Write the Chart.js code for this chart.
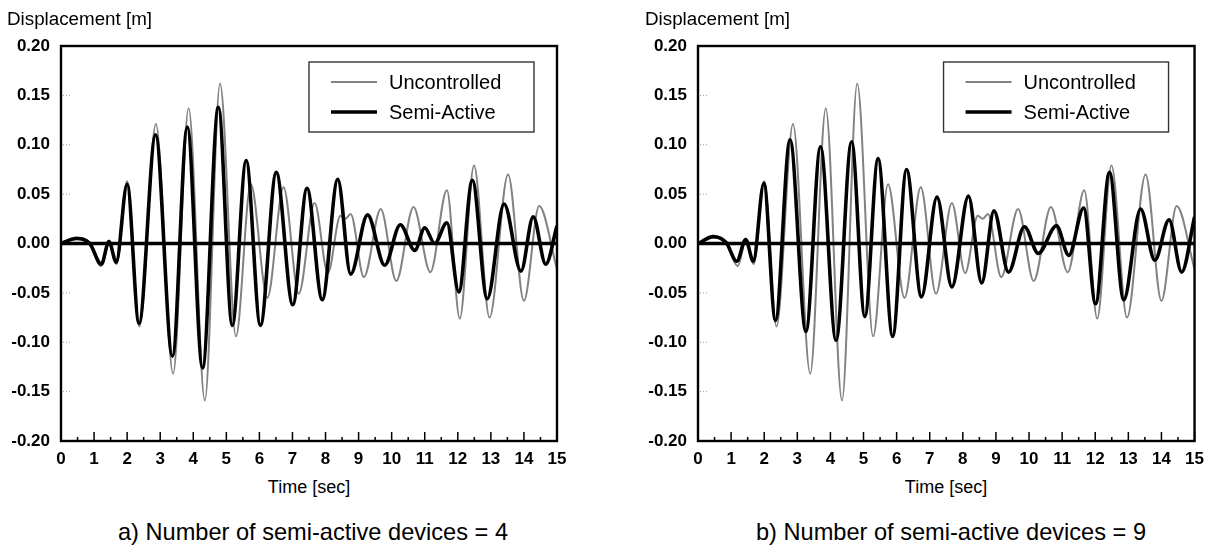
<!DOCTYPE html>
<html><head><meta charset="utf-8">
<script src="https://cdn.jsdelivr.net/npm/chart.js@4.4.1/dist/chart.umd.min.js"></script>
<style>
body{margin:0;background:#fff;}
#page{position:relative;width:1212px;height:550px;overflow:hidden;background:#fff;font-family:"Liberation Sans",Arial,sans-serif;color:#000;}
.t{position:absolute;white-space:nowrap;line-height:1;text-align:center;}
canvas{position:absolute;top:0;}
</style></head><body>
<div id="page">
<canvas id="cL" width="600" height="470" style="left:0px"></canvas>
<canvas id="cR" width="575" height="470" style="left:637px"></canvas>
<div class="t" style="left:7px;top:10px;font-size:18.8px;text-align:left">Displacement [m]</div>
<div class="t" style="left:645px;top:10px;font-size:18.8px;text-align:left">Displacement [m]</div>
<div class="t" style="left:209px;width:200px;top:478px;font-size:18px">Time [sec]</div>
<div class="t" style="left:846px;width:200px;top:478px;font-size:18px">Time [sec]</div>
<div class="t" style="left:13px;width:600px;top:521px;font-size:23.6px">a) Number of semi-active devices = 4</div>
<div class="t" style="left:651px;width:600px;top:521px;font-size:23.6px">b) Number of semi-active devices = 9</div>
</div>
<script>
const FONT = '"Liberation Sans", Arial, sans-serif';

// Uncontrolled response (same in both panels)
const uncontrolledTime = [0.0, 0.45, 0.85, 1.2, 1.45, 1.68, 2.0, 2.37, 2.87, 3.39, 3.86, 4.35, 4.81, 5.29, 5.74, 6.24, 6.73, 7.19, 7.67, 8.07, 8.45, 8.6, 8.76, 9.16, 9.67, 10.14, 10.66, 11.17, 11.67, 12.06, 12.49, 12.96, 13.52, 14.0, 14.46, 15.0];
const uncontrolledDisp = [0.0, 0.006, 0.001, -0.023, 0.003, -0.021, 0.063, -0.084, 0.121, -0.132, 0.137, -0.159, 0.162, -0.094, 0.060, -0.055, 0.057, -0.051, 0.041, -0.030, 0.028, 0.025, 0.030, -0.034, 0.035, -0.038, 0.037, -0.029, 0.054, -0.076, 0.079, -0.075, 0.070, -0.058, 0.038, -0.026];

// Semi-active, 4 devices
const semiActive4Time = [0.0, 0.46, 0.87, 1.22, 1.45, 1.67, 2.0, 2.36, 2.86, 3.37, 3.82, 4.28, 4.76, 5.18, 5.6, 6.03, 6.51, 7.01, 7.44, 7.9, 8.37, 8.76, 9.27, 9.79, 10.26, 10.7, 11.0, 11.3, 11.67, 12.03, 12.44, 12.89, 13.4, 13.91, 14.28, 14.66, 15.0];
const semiActive4Disp = [0.0, 0.005, 0.0, -0.021, 0.002, -0.019, 0.060, -0.081, 0.110, -0.114, 0.118, -0.126, 0.138, -0.083, 0.084, -0.083, 0.072, -0.062, 0.056, -0.057, 0.065, -0.031, 0.029, -0.022, 0.019, -0.007, 0.016, 0.0, 0.021, -0.049, 0.064, -0.056, 0.040, -0.028, 0.027, -0.021, 0.018];

// Semi-active, 9 devices
const semiActive9Time = [0.0, 0.46, 0.85, 1.17, 1.44, 1.67, 1.99, 2.34, 2.78, 3.26, 3.7, 4.17, 4.64, 5.04, 5.44, 5.88, 6.3, 6.75, 7.22, 7.67, 8.17, 8.57, 8.94, 9.38, 9.86, 10.28, 10.83, 11.2, 11.65, 12.01, 12.43, 12.86, 13.37, 13.8, 14.23, 14.61, 15.0];
const semiActive9Disp = [0.0, 0.007, 0.001, -0.018, 0.004, -0.018, 0.061, -0.078, 0.105, -0.089, 0.098, -0.098, 0.103, -0.074, 0.086, -0.094, 0.075, -0.054, 0.047, -0.044, 0.048, -0.040, 0.033, -0.029, 0.017, -0.010, 0.018, -0.012, 0.036, -0.061, 0.072, -0.057, 0.035, -0.017, 0.024, -0.029, 0.027];

const xTickValues = [0,1,2,3,4,5,6,7,8,9,10,11,12,13,14,15];
const yTickValues = [-0.20,-0.15,-0.10,-0.05,0.00,0.05,0.10,0.15,0.20];
const legendLabels = ['Uncontrolled','Semi-Active'];

const toXY = (ts, vs) => ts.map((t, i) => ({x: t, y: vs[i]}));

function framePlugin(rightOffset) {
  return {
    id: 'frame',
    afterDatasetsDraw(chart) {
      const ctx = chart.ctx, a = chart.chartArea;
      const xs = chart.scales.x, ys = chart.scales.y;
      ctx.save();
      const y0 = ys.getPixelForValue(0);
      ctx.strokeStyle = '#000'; ctx.lineWidth = 3.4;
      ctx.beginPath(); ctx.moveTo(a.left, y0); ctx.lineTo(a.right, y0); ctx.stroke();
      ctx.lineWidth = 1.5;
      for (let v = 0; v <= 15; v += 0.5) {
        const px = xs.getPixelForValue(v);
        const len = (v % 1 === 0) ? 9 : 4;
        ctx.beginPath(); ctx.moveTo(px, a.bottom); ctx.lineTo(px, a.bottom - len); ctx.stroke();
      }
      ctx.strokeStyle = '#9a9a9a'; ctx.lineWidth = 1; ctx.setLineDash([1, 2]);
      yTickValues.forEach(v => {
        if (Math.abs(v) < 1e-9 || Math.abs(Math.abs(v) - 0.2) < 1e-9) return;
        const py = ys.getPixelForValue(v);
        ctx.beginPath(); ctx.moveTo(a.left + 2, py); ctx.lineTo(a.left + 10, py); ctx.stroke();
      });
      ctx.setLineDash([]);
      ctx.strokeStyle = '#000'; ctx.lineWidth = 2.4;
      ctx.strokeRect(a.left, a.top, a.right - a.left, a.bottom - a.top);
      const w = 225, h = 70;
      const bx = a.right - rightOffset - w, by = a.top + 16;
      ctx.fillStyle = '#fff'; ctx.fillRect(bx, by, w, h);
      ctx.strokeStyle = '#333'; ctx.lineWidth = 1.4;
      ctx.strokeRect(bx, by, w, h);
      const ds = chart.data.datasets;
      const rows = [ds[1], ds[0]];
      rows.forEach((d, i) => {
        const ry = by + 20 + i * 30;
        ctx.strokeStyle = d.borderColor; ctx.lineWidth = d.borderWidth;
        ctx.beginPath(); ctx.moveTo(bx + 22, ry); ctx.lineTo(bx + 68, ry); ctx.stroke();
        ctx.fillStyle = '#000'; ctx.font = '20px ' + FONT; ctx.textBaseline = 'middle'; ctx.textAlign = 'left';
        ctx.fillText(d.label, bx + 80, ry + 1);
      });
      ctx.restore();
    }
  };
}

function makeChart(id, semiT, semiV, padRight, legendRight) {
  return new Chart(document.getElementById(id), {
    type: 'line',
    data: {
      datasets: [
        {label: legendLabels[1], data: toXY(semiT, semiV), borderColor: '#000', borderWidth: 3.6, pointRadius: 0, cubicInterpolationMode: 'monotone', fill: false, order: 0},
        {label: legendLabels[0], data: toXY(uncontrolledTime, uncontrolledDisp), borderColor: '#828282', borderWidth: 2, pointRadius: 0, cubicInterpolationMode: 'monotone', fill: false, order: 1}
      ]
    },
    options: {
      responsive: false,
      animation: false,
      layout: {padding: {left: 0, right: padRight, top: 46, bottom: 0}},
      plugins: {legend: {display: false}, tooltip: {enabled: false}},
      scales: {
        x: {
          type: 'linear', min: 0, max: 15,
          afterBuildTicks: s => { s.ticks = xTickValues.map(v => ({value: v})); },
          ticks: {padding: 8, color: '#000', maxRotation: 0, autoSkip: false, font: {family: FONT, size: 17, weight: 'bold'}, callback: v => String(v)},
          grid: {display: false, drawTicks: false},
          border: {display: false},
          afterFit: s => { s.height = 29; }
        },
        y: {
          type: 'linear', min: -0.2, max: 0.2,
          afterBuildTicks: s => { s.ticks = yTickValues.map(v => ({value: v})); },
          ticks: {padding: 11, color: '#000', font: {family: FONT, size: 17, weight: 'bold'}, callback: v => (Math.abs(v) < 1e-9 ? '0.00' : Number(v).toFixed(2))},
          grid: {display: false, drawTicks: false},
          border: {display: false},
          afterFit: s => { s.width = 61; }
        }
      }
    },
    plugins: [framePlugin(legendRight)]
  });
}

makeChart('cL', semiActive4Time, semiActive4Disp, 43, 23);
makeChart('cR', semiActive9Time, semiActive9Disp, 17, 26);
</script>
</body></html>
